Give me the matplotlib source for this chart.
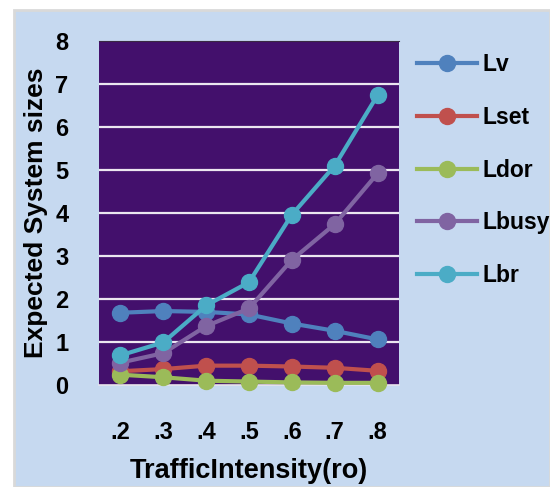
import matplotlib.pyplot as plt
from matplotlib.patches import Rectangle

# data
intensity = ['.2', '.3', '.4', '.5', '.6', '.7', '.8']
Lv = [1.68, 1.72, 1.70, 1.64, 1.43, 1.26, 1.06]
Lset = [0.32, 0.37, 0.45, 0.45, 0.43, 0.40, 0.33]
Ldor = [0.24, 0.18, 0.10, 0.08, 0.06, 0.05, 0.05]
Lbusy = [0.52, 0.74, 1.37, 1.78, 2.91, 3.74, 4.92]
Lbr = [0.69, 0.99, 1.85, 2.39, 3.96, 5.10, 6.74]

series = [('Lv', Lv, '#4F81BD'),
          ('Lset', Lset, '#C0504D'),
          ('Ldor', Ldor, '#9BBB59'),
          ('Lbusy', Lbusy, '#8064A2'),
          ('Lbr', Lbr, '#4BACC6')]

plt.rcParams['font.family'] = ['Liberation Sans', 'DejaVu Sans']
plt.rcParams['font.weight'] = 'bold'

W, H = 550, 487
fig = plt.figure(figsize=(W / 100, H / 100), dpi=100)
fig.patch.set_facecolor('white')

# light blue chart panel
fig.patches.append(Rectangle((14 / W, 0), 1 - 14 / W, (H - 10) / H,
                             transform=fig.transFigure, facecolor='#C6D9F0',
                             edgecolor='#D9D9D9', linewidth=2, zorder=-10))

ax = fig.add_axes([99 / W, (H - 385) / H, 300 / W, 344 / H])
ax.set_zorder(5)
ax.set_facecolor('#43106C')

x = range(len(intensity))
for name, vals, col in series:
    ax.plot(x, vals, color=col, linewidth=3, marker='o', markersize=11.5,
            label=name, clip_on=False, zorder=3)

ax.set_xlim(-0.5, len(intensity) - 0.5)
ax.set_ylim(0, 8)
ax.set_yticks(range(0, 9))
ax.set_xticks(list(x))
ax.set_xticklabels(intensity)

for yv in range(1, 8):
    ax.axhline(yv, color='#ECE6F0', linewidth=1.6, zorder=1)

for s in ['left', 'right']:
    ax.spines[s].set_visible(False)
ax.spines['top'].set_color('#3A2A44')
ax.spines['top'].set_linewidth(0.8)
ax.spines['bottom'].set_color('#E8E4EC')
ax.spines['bottom'].set_linewidth(1.2)

ax.tick_params(axis='both', length=0, labelsize=17)
ax.tick_params(axis='y', pad=22)
ax.tick_params(axis='x', pad=26)

fig.text(36 / W, 1 - 213 / H, 'Expected System sizes', rotation=90,
         ha='center', va='center', fontsize=19, fontweight='bold')
fig.text(249 / W, 1 - 471 / H, 'TrafficIntensity(ro)',
         ha='center', va='center', fontsize=19.5, fontweight='bold')

ax.legend(loc='upper left', bbox_to_anchor=(417 / W, 1 - 53 / H),
          bbox_transform=fig.transFigure, frameon=False, borderpad=0,
          borderaxespad=0, handlelength=2.6, handletextpad=0.25,
          labelspacing=1.3, prop={'size': 16.5, 'weight': 'bold'})

fig.savefig('out.png', dpi=100)
